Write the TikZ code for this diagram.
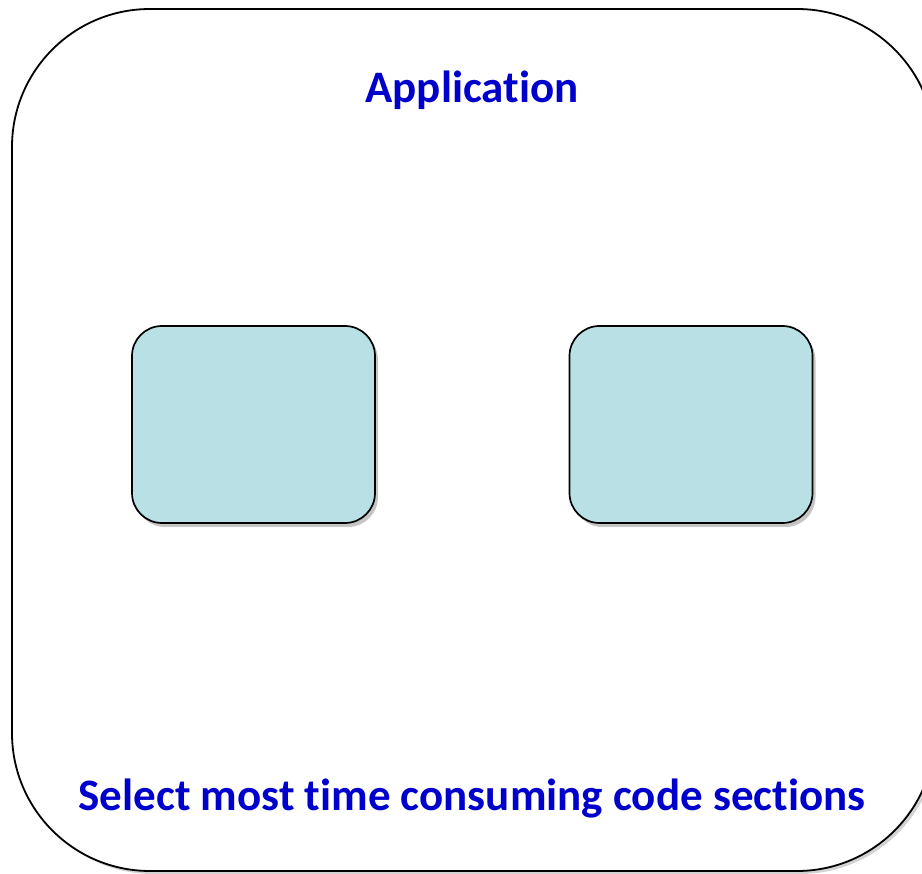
\documentclass[tikz,border=0pt]{standalone}
\usepackage{fontspec}
\setmainfont[Ligatures={NoCommon}]{Carlito}
\usetikzlibrary{positioning,shadows}

\definecolor{titleblue}{RGB}{0,0,204}
\definecolor{sectionfill}{RGB}{185,224,228}

\begin{document}
\begin{tikzpicture}[x=1pt, y=-1pt,
    frame/.style={rectangle, draw, line width=1.8pt, rounded corners=138pt, minimum width=923pt, minimum height=862pt, inner sep=0pt, fill=white, drop shadow={opacity=0.35, shadow xshift=3pt, shadow yshift=-3pt}},
    section/.style={rectangle, draw, line width=1.7pt, fill=sectionfill, rounded corners=30pt, minimum width=243pt, minimum height=197pt, inner sep=0pt, drop shadow={opacity=0.45, shadow xshift=3pt, shadow yshift=-4pt}},
    caption/.style={text=titleblue, font=\fontsize{45}{52}\selectfont\bfseries, anchor=base, inner sep=0pt}]

\useasboundingbox (0,0) rectangle (922,874);

% Outer frame
\node[frame] (app) at (473.5,440) {};

% Code sections
\node[section] (sec1) at (253.5,424.5) {};
\node[section] (sec2) at (691,424.5) {};

% Labels
\node[caption] (title) at (472,103) {Application};
\node[caption] (select) at (472,810) {Select most time consuming code sections};

\end{tikzpicture}
\end{document}
